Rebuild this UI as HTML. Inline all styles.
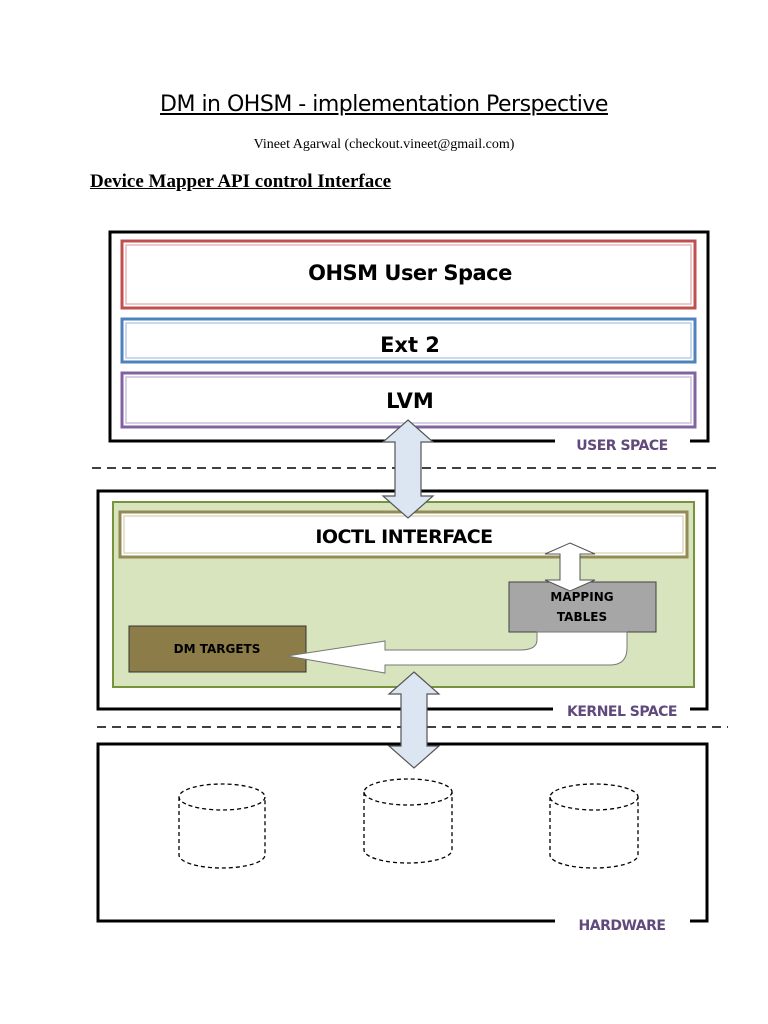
<!DOCTYPE html>
<html><head><meta charset="utf-8"><style>
body{margin:0;background:#fff;width:768px;height:1024px;overflow:hidden;position:relative}
.t{position:absolute;white-space:nowrap}
</style></head><body>
<div class="t" style="left:0;width:768px;text-align:center;top:92px;font:22px 'DejaVu Sans',sans-serif;text-decoration:underline;letter-spacing:-0.5px">DM in OHSM - implementation Perspective</div>
<div class="t" style="left:0;width:768px;text-align:center;top:137px;font:14px 'Liberation Serif',serif">Vineet Agarwal (checkout.vineet@gmail.com)</div>
<div class="t" style="left:90px;top:171px;font:bold 19px 'Liberation Serif',serif;text-decoration:underline">Device Mapper API control Interface</div>
<svg width="768" height="1024" style="position:absolute;left:0;top:0" font-family="'DejaVu Sans',sans-serif">
<!-- user space -->
<path d="M555 441 H110 V232 H708 V441 H690" fill="none" stroke="#000" stroke-width="3"/>
<rect x="122" y="241" width="573" height="67" fill="#fff" stroke="#c0504d" stroke-width="3"/>
<rect x="126" y="245" width="565" height="59" fill="none" stroke="#e6b9b8" stroke-width="1.5"/>
<rect x="122" y="319" width="573" height="43" fill="#fff" stroke="#4f81bd" stroke-width="3"/>
<rect x="126" y="323" width="565" height="35" fill="none" stroke="#b9cde5" stroke-width="1.5"/>
<rect x="122" y="373" width="573" height="54" fill="#fff" stroke="#8064a2" stroke-width="3"/>
<rect x="126" y="377" width="565" height="46" fill="none" stroke="#ccc0da" stroke-width="1.5"/>
<text x="410" y="280" font-size="21" font-weight="bold" text-anchor="middle" letter-spacing="-0.5">OHSM User Space</text>
<text x="410" y="352" font-size="21" font-weight="bold" text-anchor="middle">Ext 2</text>
<text x="410" y="408" font-size="21" font-weight="bold" text-anchor="middle">LVM</text>
<text x="622" y="450" font-size="14" font-weight="bold" fill="#604a7b" text-anchor="middle" letter-spacing="-0.5">USER SPACE</text>
<line x1="92" y1="468" x2="722" y2="468" stroke="#000" stroke-width="1.5" stroke-dasharray="9,6"/>
<!-- kernel -->
<path d="M553 709 H98 V491 H707 V709 H690" fill="none" stroke="#000" stroke-width="3"/>
<rect x="113" y="502" width="581" height="185" fill="#d7e4bd" stroke="#77933c" stroke-width="2"/>
<rect x="120" y="512" width="567" height="45" fill="#fff" stroke="#948a54" stroke-width="3"/>
<rect x="124" y="516" width="559" height="37" fill="none" stroke="#ddd9c3" stroke-width="1.5"/>
<text x="404" y="543" font-size="19" font-weight="bold" text-anchor="middle" letter-spacing="-0.5">IOCTL INTERFACE</text>
<rect x="509" y="582" width="147" height="50" fill="#a6a6a6" stroke="#404040" stroke-width="1"/>
<text x="582" y="601" font-size="12" font-weight="bold" text-anchor="middle">MAPPING</text>
<text x="582" y="621" font-size="12" font-weight="bold" text-anchor="middle">TABLES</text>
<rect x="129" y="626" width="177" height="46" fill="#8c7c48" stroke="#333" stroke-width="1"/>
<text x="217" y="653" font-size="12" font-weight="bold" text-anchor="middle">DM TARGETS</text>
<!-- curved arrow -->
<path d="M537 632 V640 Q537 650 520 650 H385 V641 L287 656 L385 673 V665 H610 Q627 665 627 648 V632 Z" fill="#fff" stroke="#777" stroke-width="1"/>
<!-- small double arrow -->
<path d="M570 543 L595 554 H580 V580 H595 L570 591 L545 580 H560 V554 H545 Z" fill="#fff" stroke="#555" stroke-width="1"/>
<text x="622" y="716" font-size="14" font-weight="bold" fill="#604a7b" text-anchor="middle" letter-spacing="-0.5">KERNEL SPACE</text>
<line x1="97" y1="727" x2="728" y2="727" stroke="#000" stroke-width="1.5" stroke-dasharray="9,6"/>
<!-- hardware -->
<path d="M555 921 H98 V744 H707 V921 H690" fill="none" stroke="#000" stroke-width="3"/>
<text x="622" y="930" font-size="14" font-weight="bold" fill="#604a7b" text-anchor="middle" letter-spacing="-0.5">HARDWARE</text>
<g fill="none" stroke="#000" stroke-width="1.3" stroke-dasharray="4,3">
<ellipse cx="222" cy="797" rx="43" ry="13"/><path d="M179 797 V855 A43 13 0 0 0 265 855 V797"/>
<ellipse cx="408" cy="792" rx="44" ry="13"/><path d="M364 792 V850 A44 13 0 0 0 452 850 V792"/>
<ellipse cx="594" cy="797" rx="44" ry="13"/><path d="M550 797 V855 A44 13 0 0 0 638 855 V797"/>
</g>
<!-- big arrows -->
<path d="M408 420 L433 442 H421 V496 H433 L408 518 L383 496 H395 V442 H383 Z" fill="#dce6f2" stroke="#555" stroke-width="1.2"/>
<path d="M414 672 L439 694 H427 V746 H439 L414 768 L389 746 H401 V694 H389 Z" fill="#dce6f2" stroke="#555" stroke-width="1.2"/>
</svg>
</body></html>
